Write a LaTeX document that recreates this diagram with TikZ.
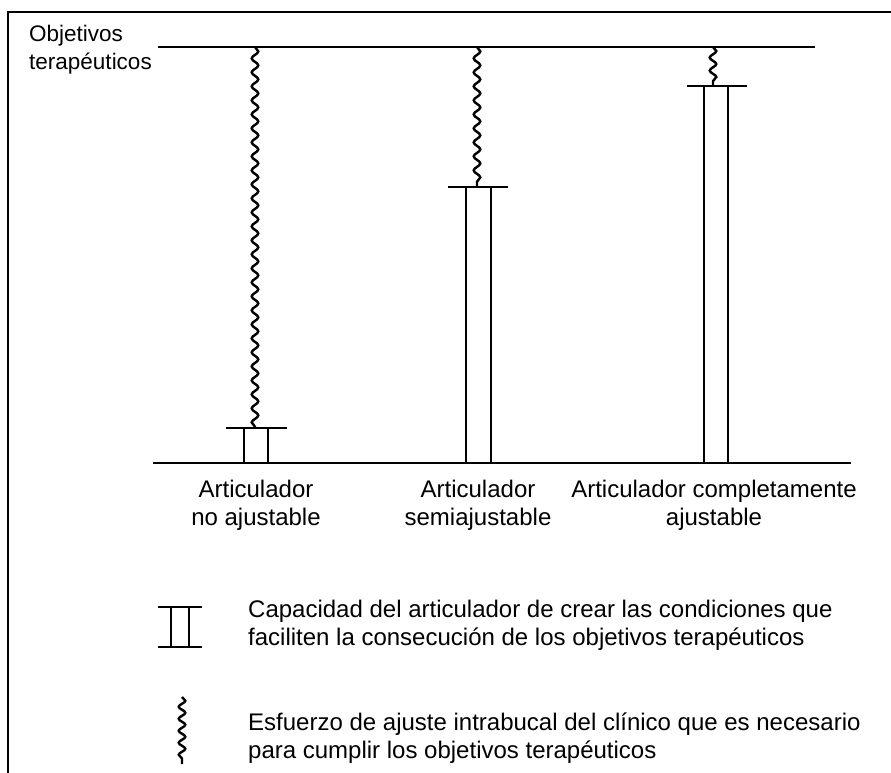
\documentclass[tikz,border=0pt]{standalone}
\usepackage{fontspec}
\setmainfont{Liberation Sans}
\usetikzlibrary{decorations.pathmorphing}
\begin{document}
\begin{tikzpicture}[x=1pt,y=-1pt,
  ln/.style={line width=2.8pt},
  frm/.style={line width=2.2pt},
  wave/.style={line width=2.4pt, decorate, decoration={snake, segment length=14pt, amplitude=3.3pt}},
  lbl/.style={font=\fontsize{24}{28}\selectfont, inner sep=0pt, anchor=base},
  lbll/.style={font=\fontsize{24}{28}\selectfont, inner sep=0pt, anchor=base west},
  ttl/.style={font=\fontsize{22.5}{28}\selectfont, inner sep=0pt, anchor=base west}]
\useasboundingbox (0,0) rectangle (891,773);
% frame
\coordinate (fbl) at (8,773);
\coordinate (ftl) at (8,12);
\coordinate (ftr) at (891,12);
\draw[frm] (fbl) -- (ftl) -- (ftr);
% title
\node[ttl] (obj1) at (29,42) {Objetivos};
\node[ttl] (obj2) at (29,70) {terapéuticos};
% top and bottom lines
\coordinate (tl) at (158,47);
\coordinate (tr) at (815,47);
\draw[ln] (tl) -- (tr);
\coordinate (bl) at (153,463);
\coordinate (br) at (851,463);
\draw[ln] (bl) -- (br);
% articulador 1
\coordinate (a1cl) at (226,428); \coordinate (a1cr) at (287,428);
\draw[ln] (a1cl) -- (a1cr);
\coordinate (a1l) at (244,428); \coordinate (a1lb) at (244,463);
\coordinate (a1r) at (268,428); \coordinate (a1rb) at (268,463);
\draw[ln] (a1l) -- (a1lb);
\draw[ln] (a1r) -- (a1rb);
\coordinate (a1wt) at (255,47); \coordinate (a1wb) at (255,428);
\draw[wave] (a1wt) -- (a1wb);
% articulador 2
\coordinate (a2cl) at (448,187); \coordinate (a2cr) at (508,187);
\draw[ln] (a2cl) -- (a2cr);
\coordinate (a2l) at (466,187); \coordinate (a2lb) at (466,463);
\coordinate (a2r) at (491,187); \coordinate (a2rb) at (491,463);
\draw[ln] (a2l) -- (a2lb);
\draw[ln] (a2r) -- (a2rb);
\coordinate (a2wt) at (477,47); \coordinate (a2wb) at (477,187);
\draw[wave] (a2wt) -- (a2wb);
% articulador 3
\coordinate (a3cl) at (687,86); \coordinate (a3cr) at (747,86);
\draw[ln] (a3cl) -- (a3cr);
\coordinate (a3l) at (704,86); \coordinate (a3lb) at (704,463);
\coordinate (a3r) at (728,86); \coordinate (a3rb) at (728,463);
\draw[ln] (a3l) -- (a3lb);
\draw[ln] (a3r) -- (a3rb);
\coordinate (a3wt) at (713,47); \coordinate (a3wb) at (713,86);
\draw[wave, decoration={snake, segment length=13pt, amplitude=3.3pt}] (a3wt) -- (a3wb);
% labels
\node[lbl] (l1a) at (256,497) {Articulador};
\node[lbl] (l1b) at (256,525) {no ajustable};
\node[lbl] (l2a) at (478,497) {Articulador};
\node[lbl] (l2b) at (478,525) {semiajustable};
\node[lbl] (l3a) at (714,497) {Articulador completamente};
\node[lbl] (l3b) at (714,525) {ajustable};
% legend 1
\coordinate (g1tl) at (158,607); \coordinate (g1tr) at (202,607);
\coordinate (g1bl) at (158,647); \coordinate (g1br) at (202,647);
\draw[ln] (g1tl) -- (g1tr);
\draw[ln] (g1bl) -- (g1br);
\coordinate (g1a) at (171,607); \coordinate (g1ab) at (171,647);
\coordinate (g1b) at (189,607); \coordinate (g1bb) at (189,647);
\draw[ln] (g1a) -- (g1ab);
\draw[ln] (g1b) -- (g1bb);
\node[lbll] (t1a) at (248,617) {Capacidad del articulador de crear las condiciones que};
\node[lbll] (t1b) at (248,645) {faciliten la consecución de los objetivos terapéuticos};
% legend 2
\coordinate (g2t) at (182,697); \coordinate (g2b) at (182,764);
\draw[wave, decoration={snake, segment length=12pt, amplitude=3.3pt}] (g2t) -- (g2b);
\node[lbll] (t2a) at (248,730) {Esfuerzo de ajuste intrabucal del clínico que es necesario};
\node[lbll] (t2b) at (248,758) {para cumplir los objetivos terapéuticos};
\end{tikzpicture}
\end{document}
